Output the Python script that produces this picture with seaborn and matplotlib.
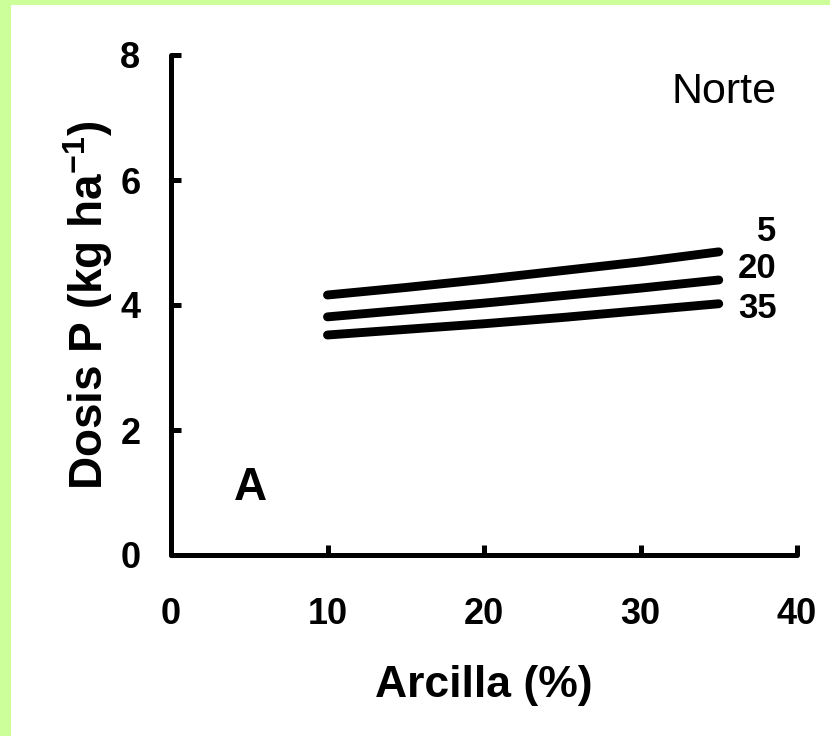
import matplotlib
matplotlib.use("Agg")
import matplotlib.pyplot as plt
import matplotlib.patches as mpatches
import pandas as pd
import seaborn as sns

# Clay content (%) along each response curve
arcilla = [10, 15, 20, 25, 30, 35]
# P dose (kg/ha) for each soil-test P level
dosis_5 = [4.16, 4.28, 4.41, 4.55, 4.69, 4.85]
dosis_20 = [3.81, 3.92, 4.03, 4.15, 4.27, 4.40]
dosis_35 = [3.52, 3.61, 3.70, 3.80, 3.91, 4.02]
niveles = ["5", "20", "35"]

x_ticks = [0, 10, 20, 30, 40]
y_ticks = [0, 2, 4, 6, 8]

sns.set_theme(style="white")
plt.rcParams["font.family"] = ["Liberation Sans", "DejaVu Sans"]
plt.rcParams["mathtext.fontset"] = "custom"
plt.rcParams["mathtext.rm"] = "Liberation Sans"
plt.rcParams["mathtext.bf"] = "Liberation Sans:bold"
plt.rcParams["text.color"] = "black"
plt.rcParams["axes.labelcolor"] = "black"
plt.rcParams["xtick.color"] = "black"
plt.rcParams["ytick.color"] = "black"

df = pd.concat(
    [
        pd.DataFrame({"Arcilla": arcilla, "Dosis": vals, "P": lvl})
        for lvl, vals in zip(niveles, [dosis_5, dosis_20, dosis_35])
    ],
    ignore_index=True,
)

fig = plt.figure(figsize=(8.30, 7.36), dpi=100, facecolor="white")
green = "#CCFF99"
fig.patches.append(mpatches.Rectangle((0, 0), 11 / 830, 1, transform=fig.transFigure,
                                      facecolor=green, edgecolor="none", zorder=0))
fig.patches.append(mpatches.Rectangle((0, 1 - 5 / 736), 1, 5 / 736, transform=fig.transFigure,
                                      facecolor=green, edgecolor="none", zorder=0))

ax = fig.add_axes([171 / 830, 1 - 555 / 736, (797 - 171) / 830, (555 - 55) / 736])
ax.set_facecolor("none")

sns.lineplot(data=df, x="Arcilla", y="Dosis", hue="P", hue_order=niveles,
             palette=["black"] * 3, linewidth=6.4, legend=False, ax=ax,
             solid_capstyle="round")

ax.set_xlim(0, 40)
ax.set_ylim(0, 8)
ax.set_xticks(x_ticks)
ax.set_yticks(y_ticks)

for side in ["top", "right"]:
    ax.spines[side].set_visible(False)
for side in ["left", "bottom"]:
    ax.spines[side].set_linewidth(3.6)
    ax.spines[side].set_color("black")
    ax.spines[side].set_capstyle("round")

ax.tick_params(axis="both", direction="in", length=7, width=3.6, color="black",
               labelsize=26, bottom=True, left=True, labelcolor="black")
ax.tick_params(axis="x", pad=30)
ax.tick_params(axis="y", pad=22)
for lab in ax.get_xticklabels() + ax.get_yticklabels():
    lab.set_fontweight("bold")

ax.set_xlabel("Arcilla (%)", fontsize=32, fontweight="bold", labelpad=24)
ax.set_ylabel(r"Dosis P (kg ha$^{\mathbf{-1}}$)", fontsize=33, fontweight="bold", labelpad=4)

# curve labels at the right end of each line
label_y = [5.17, 4.59, 3.94]
for lvl, yy in zip(niveles, label_y):
    ax.text(38.7, yy, lvl, ha="right", va="center", fontsize=25, fontweight="bold")

ax.text(38.7, 7.41, "Norte", ha="right", va="center", fontsize=31)
ax.text(5.1, 1.07, "A", ha="center", va="center", fontsize=33, fontweight="bold")

fig.savefig("out.png", dpi=100, facecolor="white")
